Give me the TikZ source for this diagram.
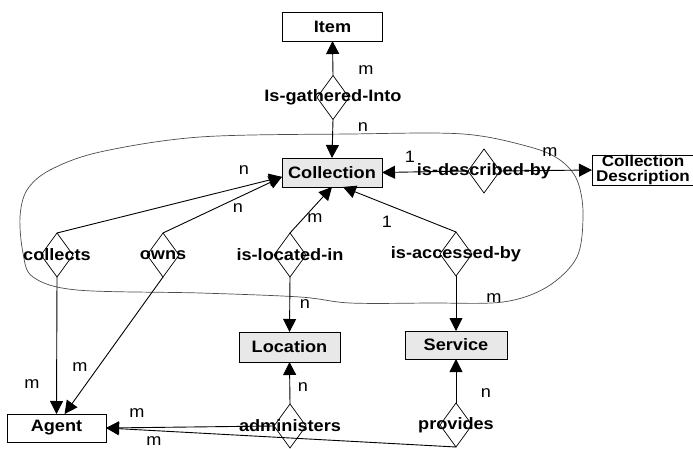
\documentclass[tikz,border=0pt]{standalone}
\usepackage{fontspec}
\setmainfont{Liberation Sans}[FakeStretch=1.1]
\usetikzlibrary{shapes.geometric,arrows.meta,calc}
\begin{document}
\begin{tikzpicture}[x=1pt,y=-1pt,
  every node/.style={outer sep=0pt},
  ent/.style={draw, line width=0.9pt, minimum width=100pt, minimum height=29pt, inner sep=0pt,
    font=\bfseries\fontsize{16.5}{14.5}\selectfont},
  grayent/.style={ent, fill=gray!18},
  rel/.style={diamond, draw, line width=0.7pt, minimum width=32pt, minimum height=44pt, inner sep=0pt},
  rtxt/.style={inner sep=0pt, font=\bfseries\fontsize{16.5}{18}\selectfont},
  card/.style={inner sep=0pt, font=\fontsize{16.5}{18}\selectfont},
  conn/.style={line width=0.9pt, -{Triangle[length=13pt,width=13pt]}},
  blob/.style={draw=black!70, line width=0.7pt}
]
\useasboundingbox (0,0) rectangle (693,449);

% hand-drawn boundary
\draw[blob] plot[smooth cycle, tension=0.55] coordinates {
  (200,137) (350,134) (463,134) (530,147) (560,160) (577,180) (583,213) (577,257)
  (547,287) (503,302) (430,303) (350,303) (300,297) (200,293) (77,290) (33,277)
  (23,253) (20,217) (27,190) (50,170) (100,152)};

% entities
\node[ent] (item) at (332.5,26.5) {Item};
\node[grayent] (coll) at (332,172.5) {Collection};
\node[ent, minimum width=102pt, minimum height=28pt, align=center,
  font=\bfseries\fontsize{15.5}{15.5}\selectfont] (cd) at (643,170) {Collection\\Description};
\node[grayent, minimum width=101pt, minimum height=30pt] (loc) at (289.5,347) {Location};
\node[grayent, minimum width=102pt, minimum height=28pt] (serv) at (456,345) {Service};
\node[ent, minimum width=99pt, minimum height=28pt] (agent) at (56.5,428) {Agent};

% relationships
\node[rel] (gath) at (333,97.5) {};
\node[rel] (desc) at (484,171) {};
\node[rel] (colls) at (57,255) {};
\node[rel] (owns) at (163,255) {};
\node[rel] (locin) at (290,255) {};
\node[rel] (acc) at (456,254) {};
\node[rel] (adm) at (290,426) {};
\node[rel] (prov) at (456,425) {};

% connectors
\draw[conn] (gath.north) -- (item.south);
\draw[conn] (gath.south) -- (coll.north);
\draw[conn] (desc.west) -- (coll.east);
\draw[conn] (desc.east) -- (cd.west);
\draw[conn] (colls.north) -- (coll.185);
\draw[conn] (owns.north) -- (coll.185);
\draw[conn] (locin.north) -- (coll.south);
\draw[conn] (acc.north) -- (coll.307);
\draw[conn] (acc.south) -- (serv.north);
\draw[conn] (locin.south) -- (loc.north);
\draw[conn] (colls.south) -- (agent.north);
\draw[conn] (owns.south) -- (agent.60);
\draw[conn] (adm.north) -- (loc.south);
\draw[conn] (adm.west) -- (agent.east);
\draw[conn] (prov.south) -- (agent.east);
\draw[conn] (prov.north) -- (serv.south);

% relationship labels
\node[rtxt] (gathT) at (gath) {Is-gathered-Into};
\node[rtxt] (descT) at (desc) {is-described-by};
\node[rtxt] (collsT) at (colls) {collects};
\node[rtxt] (ownsT) at (owns) {owns};
\node[rtxt] (locinT) at (locin) {is-located-in};
\node[rtxt] (accT) at (acc) {is-accessed-by};
\node[rtxt] (admT) at (adm) {administers};
\node[rtxt] (provT) at (prov) {provides};

% cardinalities
\node[card] (c1) at (366,70) {m};
\node[card] (c2) at (363,127) {n};
\node[card] (c3) at (410,157) {1};
\node[card] (c4) at (550,152) {m};
\node[card] (c5) at (244,170) {n};
\node[card] (c6) at (238,208) {n};
\node[card] (c7) at (315,218) {m};
\node[card] (c8) at (387,222) {1};
\node[card] (c9) at (305,304) {n};
\node[card] (c10) at (494,298) {m};
\node[card] (c11) at (32,384) {m};
\node[card] (c12) at (80,367) {m};
\node[card] (c13) at (303,387) {n};
\node[card] (c14) at (486,393) {n};
\node[card] (c15) at (137,413) {m};
\node[card] (c16) at (154,441) {m};
\end{tikzpicture}
\end{document}
